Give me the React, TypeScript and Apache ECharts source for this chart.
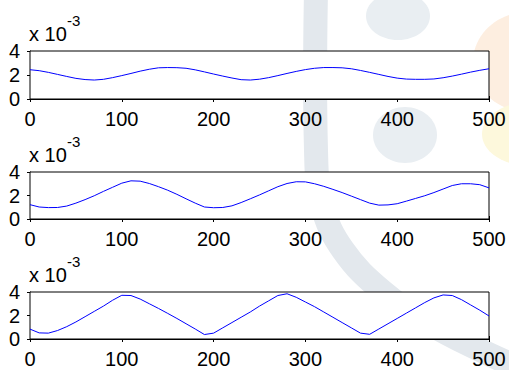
import React, { useEffect, useRef } from "react";
import * as echarts from "echarts";

// sample positions (x axis)
const xs = [
  0, 10, 20, 30, 40, 50, 60, 70, 80, 90, 100, 110, 120, 130, 140, 150, 160, 170, 180, 190,
  200, 210, 220, 230, 240, 250, 260, 270, 280, 290, 300, 310, 320, 330, 340, 350, 360, 370, 380, 390,
  400, 410, 420, 430, 440, 450, 460, 470, 480, 490, 500,
];

// values in units of 1e-3
const series1 = [
  2.44, 2.36, 2.22, 2.05, 1.88, 1.72, 1.62, 1.58, 1.64, 1.78, 1.95, 2.13, 2.32, 2.48, 2.6, 2.62, 2.61, 2.56, 2.43, 2.26,
  2.08, 1.91, 1.75, 1.61, 1.58, 1.65, 1.78, 1.95, 2.13, 2.3, 2.45, 2.56, 2.62, 2.62, 2.6, 2.52, 2.38, 2.22, 2.05, 1.88,
  1.74, 1.66, 1.64, 1.64, 1.67, 1.77, 1.91, 2.07, 2.24, 2.39, 2.52,
];
const series2 = [
  1.22, 1.02, 0.97, 0.98, 1.1, 1.35, 1.65, 1.98, 2.35, 2.7, 3.05, 3.25, 3.22, 3.02, 2.75, 2.45, 2.1, 1.72, 1.35, 1.02,
  0.96, 0.98, 1.12, 1.4, 1.72, 2.05, 2.4, 2.75, 3.02, 3.17, 3.16, 3.0, 2.78, 2.52, 2.25, 1.95, 1.65, 1.35, 1.18, 1.2,
  1.3, 1.52, 1.75, 1.98, 2.25, 2.55, 2.85, 3.0, 3.0, 2.92, 2.65,
];
const series3 = [
  0.84, 0.52, 0.5, 0.72, 1.05, 1.45, 1.9, 2.35, 2.8, 3.3, 3.72, 3.7, 3.4, 3.0, 2.6, 2.18, 1.75, 1.3, 0.85, 0.38,
  0.5, 0.95, 1.4, 1.85, 2.3, 2.8, 3.25, 3.7, 3.85, 3.55, 3.15, 2.75, 2.3, 1.85, 1.4, 0.95, 0.5, 0.4, 0.85, 1.3,
  1.75, 2.2, 2.65, 3.1, 3.5, 3.75, 3.7, 3.35, 2.9, 2.45, 1.96,
];

const xTicks = [0, 100, 200, 300, 400, 500];
const yTicks = [0, 2, 4];
const scaleBase = "x 10";
const scaleExp = "-3";

const allSeries = [series1, series2, series3];
const gridTops = [51, 172, 292];
const gridHeights = [48, 47, 47];

const FONT = "'Liberation Sans', Arial, Helvetica, sans-serif";

export default function App() {
  const ref = useRef<HTMLDivElement>(null);

  useEffect(() => {
    if (!ref.current) return;
    const chart = echarts.init(ref.current, null, { renderer: "svg" });

    const grids: any[] = [];
    const xAxes: any[] = [];
    const yAxes: any[] = [];
    const series: any[] = [];
    const graphics: any[] = [];

    // watermark (background decoration)
    graphics.push(
      {
        type: "polyline",
        z: -10,
        silent: true,
        shape: {
          points: [
            [316, -10], [316, 150], [322, 205], [343, 250], [383, 292], [430, 324], [480, 350], [520, 368],
          ],
          smooth: 0.4,
        },
        style: { stroke: "#e3e8ed", lineWidth: 24, fill: null },
      },
      { type: "ellipse", z: -10, silent: true, shape: { cx: 398, cy: 16, rx: 32, ry: 24 }, style: { fill: "#e9eef2" } },
      { type: "ellipse", z: -10, silent: true, shape: { cx: 405, cy: 135, rx: 32, ry: 28 }, style: { fill: "#e9eef2" } },
      { type: "ellipse", z: -10, silent: true, shape: { cx: 528, cy: 62, rx: 55, ry: 50 }, style: { fill: "#fdeee0" } },
      { type: "ellipse", z: -10, silent: true, shape: { cx: 530, cy: 134, rx: 48, ry: 32 }, style: { fill: "#fdf8dc" } }
    );

    allSeries.forEach((vals, i) => {
      const top = gridTops[i];
      grids.push({
        left: 30,
        top,
        width: 459,
        height: gridHeights[i],
        show: true,
        backgroundColor: "#ffffff",
        borderColor: "#000000",
        borderWidth: 1,
        z: 1,
      });
      const common = {
        gridIndex: i,
        type: "value",
        min: xTicks[0],
        max: xTicks[xTicks.length - 1],
        interval: 100,
        splitLine: { show: false },
      };
      xAxes.push({
        ...common,
        position: "bottom",
        axisLine: { show: true, lineStyle: { color: "#000", width: 1 } },
        axisTick: { show: true, inside: true, length: 3, lineStyle: { color: "#000" } },
        axisLabel: {
          show: true,
          margin: 10,
          color: "#000",
          fontSize: 20,
          fontFamily: FONT,
          showMinLabel: true,
          showMaxLabel: true,
          hideOverlap: false,
        },
      });
      xAxes.push({
        ...common,
        position: "top",
        axisLine: { show: false },
        axisTick: { show: true, inside: true, length: 3, lineStyle: { color: "#000" } },
        axisLabel: { show: false },
      });
      const yCommon = {
        gridIndex: i,
        type: "value",
        min: yTicks[0],
        max: yTicks[yTicks.length - 1],
        interval: 2,
        splitLine: { show: false },
      };
      yAxes.push({
        ...yCommon,
        position: "left",
        axisLine: { show: true, lineStyle: { color: "#000", width: 1 } },
        axisTick: { show: true, inside: true, length: 3, lineStyle: { color: "#000" } },
        axisLabel: {
          show: true,
          margin: 10,
          color: "#000",
          fontSize: 20,
          fontFamily: FONT,
          showMinLabel: true,
          showMaxLabel: true,
          hideOverlap: false,
        },
      });
      yAxes.push({
        ...yCommon,
        position: "right",
        axisLine: { show: false },
        axisTick: { show: true, inside: true, length: 3, lineStyle: { color: "#000" } },
        axisLabel: { show: false },
      });
      series.push({
        type: "line",
        xAxisIndex: 2 * i,
        yAxisIndex: 2 * i,
        data: xs.map((x, k) => [x, vals[k]]),
        showSymbol: false,
        symbol: "none",
        smooth: false,
        lineStyle: { color: "#0000ff", width: 1 },
        z: 3,
      });
      graphics.push(
        {
          type: "text",
          left: 29,
          top: top - 27,
          z: 5,
          style: { text: scaleBase, fontSize: 20, fontFamily: FONT, fill: "#000" },
        },
        {
          type: "text",
          left: 67,
          top: top - 38,
          z: 5,
          style: { text: scaleExp, fontSize: 15, fontFamily: FONT, fill: "#000" },
        }
      );
    });

    chart.setOption({
      animation: false,
      backgroundColor: "#ffffff",
      grid: grids,
      xAxis: xAxes,
      yAxis: yAxes,
      series,
      graphic: graphics,
    });

    return () => chart.dispose();
  }, []);

  return (
    <div
      ref={ref}
      style={{ position: "absolute", left: 0, top: 0, width: 509, height: 370 }}
    />
  );
}
